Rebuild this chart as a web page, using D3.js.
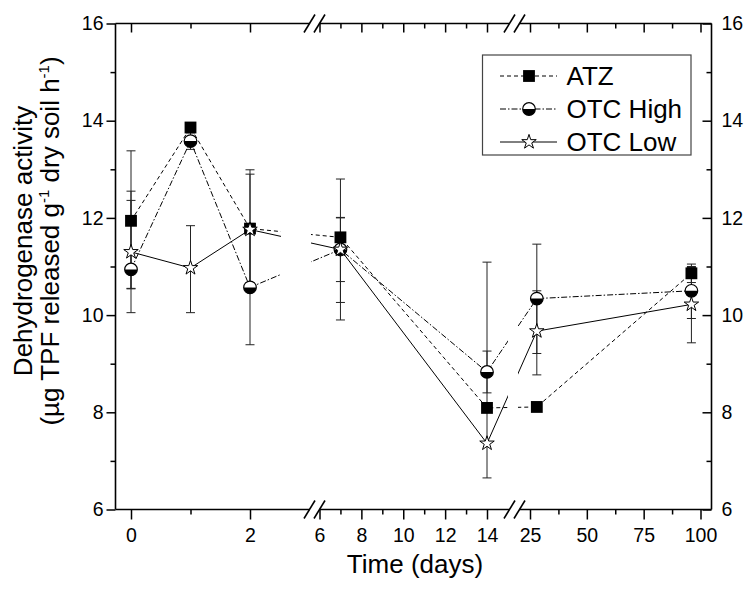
<!DOCTYPE html>
<html>
<head>
<meta charset="utf-8">
<script src="https://cdn.jsdelivr.net/npm/d3@7"></script>
<style>
  body { margin: 0; background: #fff; }
  svg { font-family: Arial, "Liberation Sans", sans-serif; }
</style>
</head>
<body>
<svg id="chart" width="748" height="590"></svg>
<script>
// sampling days and dehydrogenase activity
const days = [0, 1, 2, 7, 14, 28, 96];

const atzValues   = [11.94, 13.86, 11.78, 11.60, 8.09, 8.11, 10.86];
const atzErrUp    = [1.44, 0.05, 1.12, 0.40, 3.00, 0.05, 0.19];
const atzErrDown  = [1.40, 0.05, 1.12, 1.34, 0.00, 0.05, 0.19];

const highValues  = [10.94, 13.58, 10.57, 11.35, 8.83, 10.34, 10.50];
const highErrUp   = [1.42, 0.17, 1.18, 1.45, 0.43, 1.12, 0.48];
const highErrDown = [0.39, 0.17, 1.18, 1.45, 0.43, 1.13, 0.57];

const lowValues   = [11.30, 10.97, 11.76, 11.35, 7.36, 9.67, 10.22];
const lowErrUp    = [1.25, 0.87, 1.23, 0.66, 0.72, 0.83, 0.78];
const lowErrDown  = [1.25, 0.92, 1.23, 0.66, 0.71, 0.90, 0.79];

const seriesNames = ["ATZ", "OTC High", "OTC Low"];

// ticks for each piece of the broken x axis
const xMajorTicks = [[0, 2], [6, 8, 10, 12, 14], [25, 50, 75, 100]];
const xMinorTicks = [[1], [7, 9, 11, 13], [37.5, 62.5, 87.5]];
const yMajorTicks = [6, 8, 10, 12, 14, 16];
const yMinorTicks = [7, 9, 11, 13, 15];

// ---- layout ----
const plot = {left: 115.5, right: 711.5, top: 23.5, bottom: 509.5};
const svg = d3.select("#chart");

const y = d3.scaleLinear().domain([6, 16]).range([plot.bottom, plot.top]);

// three pieces of the x axis, each with its own linear scale
const pieces = [
  {scale: d3.scaleLinear().domain([0, 2]).range([131, 250]), clip: [plot.left, 281], max: 4},
  {scale: d3.scaleLinear().domain([6, 14]).range([319.5, 487]), clip: [311, 508], max: 20},
  {scale: d3.scaleLinear().domain([25, 100]).range([530, 700.5]), clip: [518, plot.right], max: Infinity}
];
const breaks = [314.5, 514.5];

function xPos(day) {
  const piece = pieces.find(p => day <= p.max);
  return piece.scale(day);
}

const series = [
  {name: seriesNames[0], values: atzValues, up: atzErrUp, down: atzErrDown, dash: "4,3", symbol: "square"},
  {name: seriesNames[1], values: highValues, up: highErrUp, down: highErrDown, dash: "6,2,1.5,2", symbol: "half"},
  {name: seriesNames[2], values: lowValues, up: lowErrUp, down: lowErrDown, dash: null, symbol: "star"}
];

// ---- clip path that leaves a gap at each axis break ----
const clip = svg.append("defs").append("clipPath").attr("id", "pieces");
pieces.forEach(p => {
  clip.append("rect")
    .attr("x", p.clip[0]).attr("y", 0)
    .attr("width", p.clip[1] - p.clip[0]).attr("height", 590);
});

// ---- axes ----
function styleAxis(g) {
  g.select(".domain").remove();
  g.selectAll("line").attr("stroke", "#000").attr("stroke-width", 1.5);
  g.selectAll("text").attr("font-size", 19.5).attr("fill", "#000")
    .attr("font-family", "Arial, 'Liberation Sans', sans-serif");
}

pieces.forEach((p, i) => {
  // bottom, ticks outward
  svg.append("g").attr("transform", `translate(0,${plot.bottom})`)
    .call(d3.axisBottom(p.scale).tickValues(xMajorTicks[i]).tickSize(10).tickPadding(9)
      .tickFormat(d3.format("d")))
    .call(styleAxis);
  svg.append("g").attr("transform", `translate(0,${plot.bottom})`)
    .call(d3.axisBottom(p.scale).tickValues(xMinorTicks[i]).tickSize(5).tickFormat(""))
    .call(styleAxis);
  // top, ticks inward
  svg.append("g").attr("transform", `translate(0,${plot.top})`)
    .call(d3.axisTop(p.scale).tickValues(xMajorTicks[i]).tickSize(-9).tickFormat(""))
    .call(styleAxis);
  svg.append("g").attr("transform", `translate(0,${plot.top})`)
    .call(d3.axisTop(p.scale).tickValues(xMinorTicks[i]).tickSize(-5).tickFormat(""))
    .call(styleAxis);
});

// left, ticks outward
svg.append("g").attr("transform", `translate(${plot.left},0)`)
  .call(d3.axisLeft(y).tickValues(yMajorTicks).tickSize(9).tickPadding(3))
  .call(styleAxis);
svg.append("g").attr("transform", `translate(${plot.left},0)`)
  .call(d3.axisLeft(y).tickValues(yMinorTicks).tickSize(5).tickFormat(""))
  .call(styleAxis);
// right, ticks inward
svg.append("g").attr("transform", `translate(${plot.right},0)`)
  .call(d3.axisRight(y).tickValues(yMajorTicks).tickSize(-9).tickPadding(10))
  .call(styleAxis);
svg.append("g").attr("transform", `translate(${plot.right},0)`)
  .call(d3.axisRight(y).tickValues(yMinorTicks).tickSize(-5).tickFormat(""))
  .call(styleAxis);

// frame lines, horizontal ones broken at the breaks
const frame = svg.append("g").attr("stroke", "#000").attr("stroke-width", 1.6).attr("fill", "none");
frame.append("line").attr("x1", plot.left).attr("x2", plot.left).attr("y1", plot.top).attr("y2", plot.bottom);
frame.append("line").attr("x1", plot.right).attr("x2", plot.right).attr("y1", plot.top).attr("y2", plot.bottom);
[plot.top, plot.bottom].forEach(yy => {
  const stops = [plot.left, ...breaks.flatMap(b => [b - 5, b + 5]), plot.right];
  for (let k = 0; k < stops.length; k += 2) {
    frame.append("line").attr("x1", stops[k]).attr("x2", stops[k + 1]).attr("y1", yy).attr("y2", yy);
  }
  // the "//" marks
  breaks.forEach(b => {
    [-5, 5].forEach(off => {
      frame.append("line")
        .attr("x1", b + off - 5.5).attr("y1", yy + 9)
        .attr("x2", b + off + 5.5).attr("y2", yy - 9);
    });
  });
});

// ---- error bars ----
const bars = svg.append("g").attr("stroke", "#222").attr("stroke-width", 1);
series.forEach(s => {
  days.forEach((d, i) => {
    const x = xPos(d);
    const top = y(s.values[i] + s.up[i]);
    const bot = y(s.values[i] - s.down[i]);
    bars.append("line").attr("x1", x).attr("x2", x).attr("y1", top).attr("y2", bot);
    if (s.up[i] > 0) bars.append("line").attr("x1", x - 4.5).attr("x2", x + 4.5).attr("y1", top).attr("y2", top);
    if (s.down[i] > 0) bars.append("line").attr("x1", x - 4.5).attr("x2", x + 4.5).attr("y1", bot).attr("y2", bot);
  });
});

// ---- connecting lines ----
const line = d3.line().x(d => xPos(d[0])).y(d => y(d[1]));
series.forEach(s => {
  svg.append("path")
    .datum(days.map((d, i) => [d, s.values[i]]))
    .attr("clip-path", "url(#pieces)")
    .attr("fill", "none")
    .attr("stroke", "#000")
    .attr("stroke-width", 1)
    .attr("stroke-dasharray", s.dash)
    .attr("d", line);
});

// ---- markers ----
function drawSymbol(g, type) {
  if (type === "square") {
    g.append("path").attr("d", d3.symbol().type(d3.symbolSquare).size(140)())
      .attr("fill", "#000");
  } else if (type === "half") {
    const r = 6.3;
    g.append("circle").attr("r", r).attr("fill", "#fff").attr("stroke", "#000").attr("stroke-width", 1.2);
    g.append("path").attr("d", `M${-r},0 A${r},${r} 0 0 0 ${r},0 Z`).attr("fill", "#000");
  } else {
    g.append("path").attr("d", d3.symbol().type(d3.symbolStar).size(65)())
      .attr("fill", "#fff").attr("stroke", "#000").attr("stroke-width", 1);
  }
}

series.forEach(s => {
  days.forEach((d, i) => {
    const g = svg.append("g").attr("transform", `translate(${xPos(d)},${y(s.values[i])})`);
    drawSymbol(g, s.symbol);
  });
});

// ---- legend ----
const legend = svg.append("g");
legend.append("rect")
  .attr("x", 482.5).attr("y", 55).attr("width", 208.5).attr("height", 100)
  .attr("fill", "#fff").attr("stroke", "#444").attr("stroke-width", 1.2);
series.forEach((s, i) => {
  const cy = 76 + i * 33;
  legend.append("line")
    .attr("x1", 500).attr("x2", 557).attr("y1", cy).attr("y2", cy)
    .attr("stroke", "#000").attr("stroke-width", 1).attr("stroke-dasharray", s.dash);
  drawSymbol(legend.append("g").attr("transform", `translate(529,${cy})`), s.symbol);
  legend.append("text")
    .attr("x", 566.5).attr("y", cy + 9)
    .attr("font-size", 26)
    .text(s.name);
});

// ---- axis titles ----
svg.append("text")
  .attr("x", 415).attr("y", 573)
  .attr("text-anchor", "middle")
  .attr("font-size", 26)
  .text("Time (days)");

const yTitle = svg.append("text")
  .attr("transform", "translate(32,241) rotate(-90)")
  .attr("text-anchor", "middle")
  .attr("font-size", 26);
yTitle.append("tspan").attr("x", 0).attr("y", 0).text("Dehydrogenase activity");

const yTitle2 = svg.append("text")
  .attr("transform", "translate(59,241) rotate(-90)")
  .attr("text-anchor", "middle")
  .attr("font-size", 26);
yTitle2.append("tspan").text("(µg TPF released g");
yTitle2.append("tspan").attr("font-size", 15).attr("dy", -10).text("-1");
yTitle2.append("tspan").attr("dy", 10).text(" dry soil h");
yTitle2.append("tspan").attr("font-size", 15).attr("dy", -10).text("-1");
yTitle2.append("tspan").attr("dy", 10).text(")");
</script>
</body>
</html>
